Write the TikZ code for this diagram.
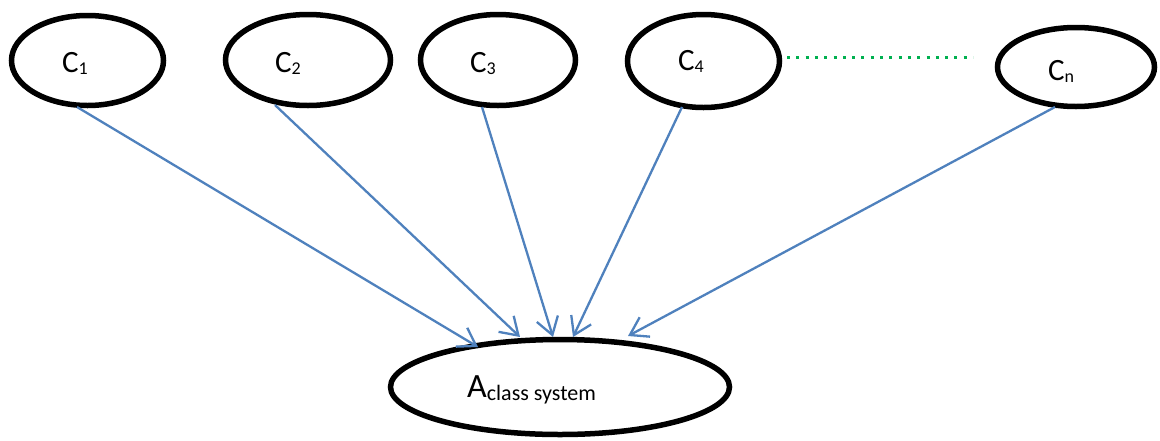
\documentclass[tikz,border=0pt]{standalone}
\usepackage{fontspec}
\setmainfont{Carlito}
\usetikzlibrary{arrows.meta,calc,shapes.geometric}
\definecolor{arrblue}{HTML}{4F81BD}
\definecolor{dotgreen}{HTML}{00B050}
\newcommand{\lowsub}[1]{\raisebox{-2pt}{\fontsize{18pt}{18pt}\selectfont #1}}
\begin{document}
\begin{tikzpicture}[x=1pt,y=-1pt,
  cls/.style={draw=black,line width=5.5pt,ellipse,inner sep=0pt},
  lbl/.style={anchor=base west,inner sep=0pt,font=\fontsize{31pt}{31pt}\selectfont},
  arr/.style={draw=arrblue,line width=2.3pt,-{Straight Barb[length=17pt,width=22pt]}},
  dots/.style={draw=dotgreen,line width=3pt,dash pattern=on 3pt off 6.3pt}]
\useasboundingbox (0,0) rectangle (1160,440);
% class ellipses
\node[cls,minimum width=152pt,minimum height=90pt] (c1) at (87.5,60.5) {};
\node[cls,minimum width=165pt,minimum height=91pt] (c2) at (308,60) {};
\node[cls,minimum width=155pt,minimum height=91pt] (c3) at (498,60) {};
\node[cls,minimum width=152pt,minimum height=93pt] (c4) at (703.5,61) {};
\node[cls,minimum width=157pt,minimum height=79pt] (cn) at (1076,67) {};
\node[cls,minimum width=339pt,minimum height=95pt] (a) at (560,387) {};
% labels
\node[lbl] (c1t) at (62,72) {C\lowsub{1}};
\node[lbl] (c2t) at (275,72) {C\lowsub{2}};
\node[lbl] (c3t) at (470,72) {C\lowsub{3}};
\node[lbl] (c4t) at (678,70) {C\lowsub{4}};
\node[lbl] (cnt) at (1048,80) {C\lowsub{n}};
\node[anchor=base west,inner sep=0pt] (at) at (467,397)
  {\fontsize{34pt}{34pt}\selectfont A\raisebox{-3pt}{\fontsize{22pt}{22pt}\selectfont class system}};
% dotted continuation
\coordinate (dotend) at (973,57);
\draw[dots] ($(c4.center)+(83.5,-4)$) -- (dotend);
% arrows
\draw[arr] ($(c1.center)+(-10.5,46.5)$) -- ($(a.center)+(-82,-40)$);
\draw[arr] ($(c2.center)+(-33,45)$) -- ($(a.center)+(-40,-50)$);
\draw[arr] ($(c3.center)+(-16,47)$) -- ($(a.center)+(-7,-50)$);
\draw[arr] ($(c4.center)+(-21.5,46)$) -- ($(a.center)+(13,-50)$);
\draw[arr] ($(cn.center)+(-21,40)$) -- ($(a.center)+(68,-51)$);
\end{tikzpicture}
\end{document}
